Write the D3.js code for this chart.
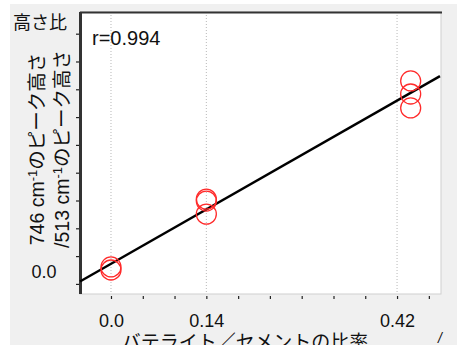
<!DOCTYPE html>
<html>
<head>
<meta charset="utf-8">
<script src="https://cdn.jsdelivr.net/npm/d3@7"></script>
<style>
  body { margin: 0; background: #ffffff; }
  svg { display: block; }
  text { font-family: "Liberation Sans", Arial, "Noto Sans CJK JP", sans-serif; fill: #111; }
  .jp { font-family: "Noto Sans CJK JP", "Liberation Sans", sans-serif; }
</style>
</head>
<body>
<div class="scatter"></div>
<script>
//-----------------------------------------
// data
//-----------------------------------------
// vaterite / cement ratio for each measurement
var ratioValues = [0, 0, 0.14, 0.14, 0.14, 0.44, 0.44, 0.44];
// peak height ratio (746 / 513), arbitrary units, 0 = "0.0" label
var heightValues = [0.011, 0.0, 0.255, 0.248, 0.201, 0.680, 0.633, 0.583];

var xTickValues = [0, 0.0467, 0.0933, 0.14, 0.1867, 0.2333, 0.28, 0.3267, 0.3733, 0.42, 0.4667];
var xTickLabels = ["0.0", "", "", "0.14", "", "", "", "", "", "0.42", ""];
var xGridValues = [0, 0.14, 0.42];
var yTickValues = [-0.05, 0.05, 0.15, 0.25, 0.35, 0.45, 0.55, 0.65, 0.75, 0.85];
var xDomain = [-0.0455, 0.486];
var yDomain = [-0.0863, 0.928];
var fitRange = [-0.0455, 0.483];

var rLabel = "r=0.994";
var xTitle = "バテライト／セメントの比率";
var yTitleTop = "高さ比";
var yTitleLines = [["746 cm", "-1", "のピーク高さ"], ["/513 cm", "-1", "のピーク高さ"]];

//-----------------------------------------
// chart
//-----------------------------------------
function scatterPlot() {
    var svgWidth = 457;
    var svgHeight = 345;

    var chartMargin = { top: 12, bottom: 51, left: 80, right: 15 };
    var chartWidth = svgWidth - chartMargin.left - chartMargin.right;
    var chartHeight = svgHeight - chartMargin.top - chartMargin.bottom;

    var svg = d3.select(".scatter")
        .append("svg")
        .attr("width", svgWidth)
        .attr("height", svgHeight);

    // gray panel
    svg.append("rect")
        .attr("x", 10).attr("y", 4)
        .attr("width", svgWidth - 10).attr("height", svgHeight - 4)
        .attr("fill", "#f0f0f0");

    var chartGroup = svg.append("g")
        .attr("transform", `translate(${chartMargin.left}, ${chartMargin.top})`);

    var xScale = d3.scaleLinear().domain(xDomain).range([0, chartWidth]);
    var yScale = d3.scaleLinear().domain(yDomain).range([chartHeight, 0]);

    // plot area
    chartGroup.append("rect")
        .attr("width", chartWidth - 1)
        .attr("height", chartHeight)
        .attr("fill", "#ffffff")
        .attr("stroke", "#cfcfcf")
        .attr("stroke-width", 1);

    // dotted gridlines
    chartGroup.selectAll(".grid")
        .data(xGridValues)
        .enter()
        .append("line")
        .attr("class", "grid")
        .attr("x1", d => xScale(d)).attr("x2", d => xScale(d))
        .attr("y1", 0).attr("y2", chartHeight)
        .attr("stroke", "#b8b8b8")
        .attr("stroke-width", 1)
        .attr("stroke-dasharray", "1,2");

    // top border
    chartGroup.append("line")
        .attr("x1", 0).attr("x2", chartWidth)
        .attr("y1", 0.5).attr("y2", 0.5)
        .attr("stroke", "#333")
        .attr("stroke-width", 2);

    // y axis
    var yAxis = d3.axisLeft(yScale)
        .tickValues(yTickValues)
        .tickSize(4)
        .tickSizeOuter(0)
        .tickFormat("");
    var yAxisG = chartGroup.append("g").call(yAxis);
    yAxisG.select(".domain").remove();
    yAxisG.selectAll(".tick line").attr("stroke", "#222").attr("stroke-width", 1.2);
    chartGroup.append("line")
        .attr("x1", 0.5).attr("x2", 0.5)
        .attr("y1", 0).attr("y2", chartHeight)
        .attr("stroke", "#333")
        .attr("stroke-width", 3);

    // x axis
    var xAxis = d3.axisBottom(xScale)
        .tickValues(xTickValues)
        .tickSize(3)
        .tickSizeOuter(0)
        .tickPadding(15)
        .tickFormat((d, i) => xTickLabels[i]);
    var xAxisG = chartGroup.append("g")
        .attr("transform", `translate(0, ${chartHeight + 2})`)
        .call(xAxis);
    xAxisG.select(".domain").remove();
    xAxisG.selectAll(".tick line").attr("stroke", "#222").attr("stroke-width", 1.2);
    xAxisG.selectAll(".tick text")
        .style("font-family", "'Liberation Sans', Arial, sans-serif")
        .style("font-size", "18px")
        .attr("fill", "#111");

    // regression line computed from the data
    var mx = d3.mean(ratioValues);
    var my = d3.mean(heightValues);
    var sxy = d3.sum(ratioValues, (d, i) => (d - mx) * (heightValues[i] - my));
    var sxx = d3.sum(ratioValues, d => (d - mx) * (d - mx));
    var slope = sxy / sxx;
    var intercept = my - slope * mx;

    var line = d3.line()
        .x(d => xScale(d))
        .y(d => yScale(intercept + slope * d));
    chartGroup.append("path")
        .datum(fitRange)
        .attr("d", line)
        .attr("fill", "none")
        .attr("stroke", "#000")
        .attr("stroke-width", 2.4);

    // markers
    chartGroup.selectAll(".markers")
        .data(ratioValues)
        .enter()
        .append("circle")
        .attr("class", "markers")
        .attr("cx", d => xScale(d))
        .attr("cy", (d, i) => yScale(heightValues[i]))
        .attr("r", 10)
        .attr("fill", "none")
        .attr("stroke", "#ff2a2a")
        .attr("stroke-width", 1.3);

    // r label
    chartGroup.append("text")
        .attr("x", 12)
        .attr("y", 33)
        .style("font-size", "20px")
        .text(rLabel);

    // y labels
    svg.append("text")
        .attr("class", "jp")
        .attr("x", 40)
        .attr("y", 29)
        .attr("text-anchor", "middle")
        .style("font-size", "18px")
        .attr("fill", "#333")
        .text(yTitleTop);

    svg.append("text")
        .attr("x", 44)
        .attr("y", 278)
        .attr("text-anchor", "middle")
        .style("font-size", "18px")
        .text("0.0");

    var yTitleX = [44, 69];
    yTitleLines.forEach(function (parts, k) {
        var t = svg.append("text")
            .attr("class", "jp")
            .attr("transform", `translate(${yTitleX[k]}, 149) rotate(-90)`)
            .attr("text-anchor", "middle")
            .style("font-size", "19.5px");
        t.append("tspan").style("font-family", "'Liberation Sans', Arial, sans-serif").text(parts[0]);
        t.append("tspan").attr("dy", -7).style("font-size", "13px")
            .style("font-family", "'Liberation Sans', Arial, sans-serif").text(parts[1]);
        t.append("tspan").attr("dy", 7).text(parts[2]);
    });

    // x title
    svg.append("text")
        .attr("class", "jp")
        .attr("x", 245)
        .attr("y", 349)
        .attr("text-anchor", "middle")
        .style("font-size", "19px")
        .attr("fill", "#333")
        .text(xTitle);

    svg.append("text")
        .attr("x", 438)
        .attr("y", 343)
        .style("font-size", "14px")
        .style("font-style", "italic")
        .text("/");
}

scatterPlot();
</script>
</body>
</html>
